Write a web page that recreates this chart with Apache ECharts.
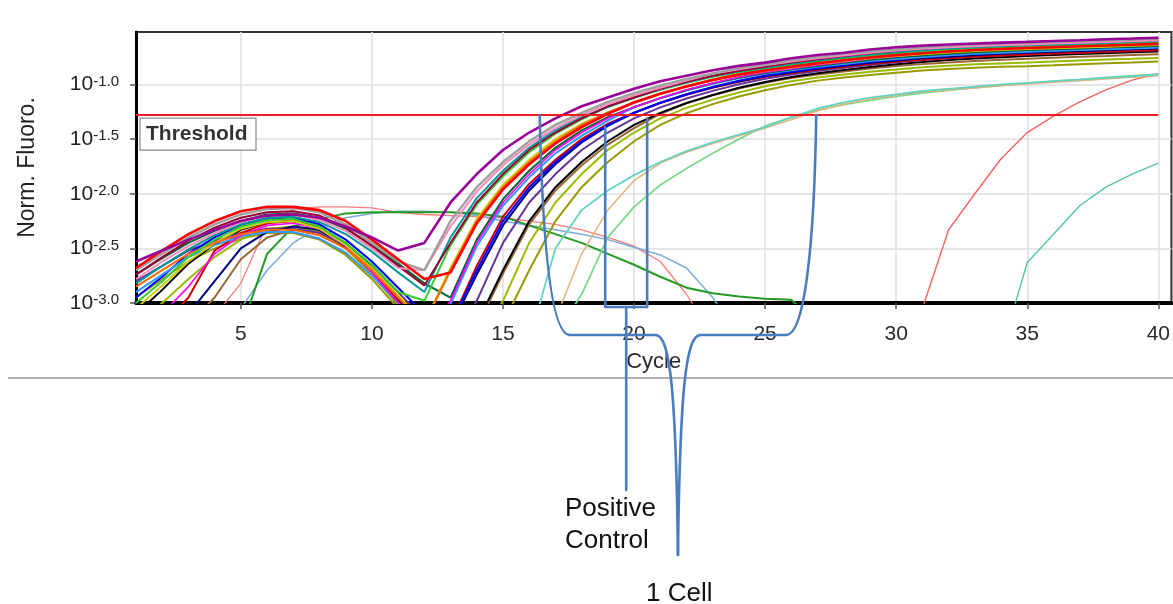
<!DOCTYPE html>
<html>
<head>
<meta charset="utf-8">
<script src="https://cdn.jsdelivr.net/npm/echarts@6/dist/echarts.min.js"></script>
<style>
html, body { margin: 0; padding: 0; background: #fff; }
#chart { width: 1173px; height: 604px; }
</style>
</head>
<body>
<div id="chart"></div>
<script>
// Cycle numbers and axis ticks
const cycles = [1,2,3,4,5,6,7,8,9,10,11,12,13,14,15,16,17,18,19,20,21,22,23,24,25,26,27,28,29,30,31,32,33,34,35,36,37,38,39,40];
const xTicks = [5, 10, 15, 20, 25, 30, 35, 40];
const yTicks = [-3.0, -2.5, -2.0, -1.5, -1.0];   // log10 of normalised fluorescence
const threshold = -1.28;

// Normalised fluorescence per cycle, as log10 values
const purple = [-2.62,-2.52,-2.42,-2.33,-2.25,-2.20,-2.19,-2.22,-2.30,-2.40,-2.52,-2.45,-2.08,-1.82,-1.60,-1.44,-1.31,-1.20,-1.12,-1.04,-0.97,-0.92,-0.87,-0.83,-0.80,-0.76,-0.73,-0.71,-0.68,-0.66,-0.645,-0.635,-0.625,-0.617,-0.61,-0.602,-0.595,-0.587,-0.58,-0.572];
const grey = [-2.70,-2.55,-2.40,-2.28,-2.19,-2.14,-2.13,-2.17,-2.28,-2.45,-2.62,-2.70,-2.25,-1.94,-1.71,-1.52,-1.37,-1.26,-1.16,-1.08,-1.01,-0.95,-0.90,-0.85,-0.82,-0.78,-0.75,-0.72,-0.70,-0.68,-0.66,-0.645,-0.635,-0.626,-0.619,-0.611,-0.604,-0.596,-0.589,-0.581];
const pink = [-2.78,-2.62,-2.48,-2.36,-2.26,-2.20,-2.19,-2.24,-2.34,-2.50,-2.68,-2.70,-2.30,-1.98,-1.74,-1.55,-1.40,-1.28,-1.18,-1.10,-1.03,-0.965,-0.90,-0.86,-0.825,-0.79,-0.76,-0.735,-0.71,-0.69,-0.674,-0.66,-0.65,-0.641,-0.634,-0.626,-0.619,-0.611,-0.604,-0.596];
const maroon = [-2.74,-2.58,-2.43,-2.31,-2.22,-2.17,-2.16,-2.20,-2.31,-2.48,-2.66,-2.84,-2.45,-2.08,-1.82,-1.60,-1.44,-1.31,-1.20,-1.12,-1.04,-0.976,-0.92,-0.874,-0.838,-0.80,-0.77,-0.739,-0.715,-0.692,-0.673,-0.655,-0.645,-0.635,-0.627,-0.62,-0.612,-0.605,-0.597,-0.59];
const teal = [-2.82,-2.66,-2.51,-2.38,-2.28,-2.22,-2.21,-2.26,-2.37,-2.53,-2.72,-2.90,-2.40,-2.04,-1.79,-1.58,-1.42,-1.30,-1.205,-1.12,-1.045,-0.98,-0.925,-0.88,-0.845,-0.81,-0.78,-0.75,-0.727,-0.705,-0.687,-0.67,-0.66,-0.65,-0.642,-0.635,-0.627,-0.62,-0.612,-0.605];
const green = [-3.00,-2.80,-2.58,-2.42,-2.30,-2.24,-2.23,-2.30,-2.45,-2.65,-2.90,-2.98,-2.47,-2.10,-1.84,-1.62,-1.45,-1.32,-1.206,-1.122,-1.048,-0.984,-0.93,-0.886,-0.853,-0.819,-0.79,-0.761,-0.739,-0.718,-0.701,-0.685,-0.675,-0.665,-0.657,-0.65,-0.642,-0.635,-0.627,-0.62];
const orange = [-2.85,-2.70,-2.55,-2.45,-2.37,-2.33,-2.33,-2.38,-2.50,-2.70,-2.95,-3.19,-2.70,-2.25,-1.94,-1.71,-1.52,-1.37,-1.258,-1.163,-1.083,-1.014,-0.954,-0.905,-0.865,-0.83,-0.798,-0.768,-0.742,-0.72,-0.701,-0.683,-0.67,-0.66,-0.651,-0.644,-0.636,-0.629,-0.621,-0.614];
const red = [-2.68,-2.52,-2.37,-2.25,-2.16,-2.12,-2.12,-2.15,-2.25,-2.42,-2.60,-2.78,-2.72,-2.27,-1.96,-1.73,-1.54,-1.39,-1.268,-1.165,-1.086,-1.018,-0.959,-0.91,-0.872,-0.838,-0.807,-0.778,-0.754,-0.732,-0.714,-0.698,-0.685,-0.675,-0.666,-0.659,-0.651,-0.644,-0.636,-0.629];
const yellow = [-3.05,-2.84,-2.62,-2.45,-2.32,-2.26,-2.25,-2.32,-2.47,-2.68,-2.93,-3.18,-2.68,-2.23,-1.92,-1.69,-1.50,-1.36,-1.255,-1.166,-1.088,-1.02,-0.962,-0.914,-0.876,-0.844,-0.813,-0.785,-0.761,-0.74,-0.723,-0.707,-0.695,-0.685,-0.676,-0.669,-0.661,-0.654,-0.646,-0.639];
const magenta = [-3.30,-3.10,-2.85,-2.55,-2.38,-2.29,-2.27,-2.32,-2.48,-2.72,-3.00,-3.30,-2.98,-2.45,-2.08,-1.82,-1.60,-1.44,-1.31,-1.206,-1.123,-1.049,-0.986,-0.932,-0.889,-0.855,-0.821,-0.793,-0.764,-0.743,-0.722,-0.706,-0.69,-0.68,-0.67,-0.662,-0.655,-0.647,-0.64,-0.632];
const darkGreen = [-2.74,-2.59,-2.45,-2.34,-2.25,-2.19,-2.18,-2.22,-2.32,-2.47,-2.64,-2.82,-2.95,-2.42,-2.05,-1.79,-1.58,-1.42,-1.30,-1.207,-1.125,-1.052,-0.99,-0.937,-0.895,-0.862,-0.83,-0.802,-0.775,-0.754,-0.735,-0.72,-0.705,-0.695,-0.685,-0.677,-0.67,-0.662,-0.655,-0.647];
const sky = [-2.90,-2.74,-2.58,-2.47,-2.39,-2.35,-2.35,-2.41,-2.54,-2.75,-3.00,-3.25,-3.01,-2.48,-2.11,-1.85,-1.63,-1.47,-1.33,-1.209,-1.127,-1.056,-0.994,-0.943,-0.901,-0.87,-0.839,-0.812,-0.786,-0.766,-0.748,-0.733,-0.72,-0.71,-0.70,-0.692,-0.685,-0.677,-0.67,-0.662];
const blue = [-2.95,-2.76,-2.55,-2.40,-2.29,-2.23,-2.22,-2.28,-2.42,-2.62,-2.86,-3.10,-3.19,-2.70,-2.25,-1.94,-1.71,-1.52,-1.37,-1.259,-1.167,-1.09,-1.022,-0.965,-0.918,-0.881,-0.849,-0.819,-0.792,-0.769,-0.748,-0.732,-0.717,-0.705,-0.695,-0.686,-0.679,-0.671,-0.664,-0.656];
const navy = [-3.50,-3.30,-3.10,-2.80,-2.50,-2.35,-2.30,-2.33,-2.45,-2.68,-2.95,-3.25,-3.22,-2.74,-2.29,-1.97,-1.73,-1.53,-1.38,-1.26,-1.168,-1.092,-1.026,-0.97,-0.924,-0.888,-0.857,-0.828,-0.802,-0.78,-0.761,-0.746,-0.732,-0.72,-0.71,-0.701,-0.694,-0.686,-0.679,-0.671];
const darkRed = [-3.40,-3.20,-2.95,-2.52,-2.36,-2.27,-2.25,-2.30,-2.46,-2.70,-2.98,-3.28,-3.19,-2.66,-2.21,-1.91,-1.69,-1.50,-1.36,-1.26,-1.17,-1.095,-1.03,-0.975,-0.93,-0.895,-0.865,-0.837,-0.812,-0.791,-0.773,-0.759,-0.746,-0.735,-0.725,-0.716,-0.709,-0.701,-0.694,-0.686];
const violet = [-2.80,-2.66,-2.52,-2.43,-2.36,-2.32,-2.32,-2.36,-2.47,-2.66,-2.90,-3.15,-3.40,-2.98,-2.45,-2.08,-1.82,-1.60,-1.44,-1.31,-1.21,-1.129,-1.059,-0.999,-0.948,-0.908,-0.878,-0.847,-0.822,-0.796,-0.778,-0.761,-0.747,-0.735,-0.725,-0.715,-0.707,-0.70,-0.692,-0.685];
const black = [-3.10,-2.88,-2.64,-2.46,-2.33,-2.26,-2.25,-2.33,-2.49,-2.71,-2.97,-3.22,-3.45,-3.19,-2.70,-2.25,-1.94,-1.71,-1.52,-1.37,-1.26,-1.17,-1.096,-1.031,-0.977,-0.932,-0.897,-0.868,-0.84,-0.815,-0.795,-0.777,-0.763,-0.751,-0.74,-0.73,-0.721,-0.714,-0.706,-0.699];
const brown = [-3.60,-3.40,-3.20,-2.95,-2.60,-2.40,-2.33,-2.35,-2.47,-2.70,-2.98,-3.28,-3.50,-3.22,-2.73,-2.28,-1.97,-1.74,-1.55,-1.40,-1.27,-1.173,-1.10,-1.038,-0.985,-0.942,-0.909,-0.881,-0.855,-0.832,-0.814,-0.798,-0.786,-0.775,-0.765,-0.755,-0.746,-0.739,-0.731,-0.724];
const lime = [-3.20,-3.00,-2.78,-2.58,-2.42,-2.32,-2.30,-2.35,-2.50,-2.74,-3.02,-3.32,-3.60,-3.40,-2.98,-2.45,-2.08,-1.82,-1.60,-1.44,-1.31,-1.214,-1.139,-1.073,-1.017,-0.971,-0.936,-0.91,-0.884,-0.864,-0.843,-0.829,-0.816,-0.808,-0.80,-0.79,-0.78,-0.772,-0.765,-0.757];
const olive = [-2.95,-2.78,-2.62,-2.50,-2.41,-2.36,-2.36,-2.42,-2.56,-2.78,-3.05,-3.30,-3.50,-3.70,-3.19,-2.70,-2.25,-1.94,-1.71,-1.52,-1.37,-1.263,-1.18,-1.111,-1.053,-1.004,-0.965,-0.937,-0.913,-0.892,-0.873,-0.859,-0.847,-0.839,-0.833,-0.825,-0.815,-0.806,-0.799,-0.791];

// Wells without amplification (signal fades away)
const salmonFlat = [null,null,-3.45,-3.12,-2.82,-2.28,-2.14,-2.12,-2.12,-2.13,-2.17,-2.19,-2.20,-2.21,-2.22,-2.25,-2.28,-2.33,-2.40,-2.48,-2.62,-2.92,-3.30,null,null,null,null,null,null,null,null,null,null,null,null,null,null,null,null,null];
const greenFlat = [null,null,null,null,-3.25,-2.55,-2.30,-2.23,-2.18,-2.17,-2.17,-2.17,-2.17,-2.18,-2.21,-2.29,-2.37,-2.45,-2.55,-2.65,-2.76,-2.86,-2.91,-2.94,-2.96,-2.97,-3.20,null,null,null,null,null,null,null,null,null,null,null,null,null];
const blueFlat = [null,null,null,-3.40,-3.05,-2.70,-2.45,-2.30,-2.22,-2.18,-2.16,-2.16,-2.17,-2.20,-2.25,-2.29,-2.33,-2.37,-2.42,-2.49,-2.56,-2.68,-2.95,-3.30,null,null,null,null,null,null,null,null,null,null,null,null,null,null,null,null];

// Late single-cell wells
const aqua = [null,null,null,null,null,null,null,null,null,null,null,null,null,null,null,-3.35,-2.50,-2.15,-1.97,-1.83,-1.71,-1.61,-1.53,-1.46,-1.39,-1.30,-1.22,-1.165,-1.12,-1.09,-1.06,-1.04,-1.02,-1.00,-0.985,-0.97,-0.955,-0.94,-0.925,-0.91];
const tan = [null,null,null,null,null,null,null,null,null,null,null,null,null,null,null,null,-3.15,-2.55,-2.15,-1.88,-1.72,-1.62,-1.54,-1.47,-1.40,-1.32,-1.24,-1.18,-1.135,-1.10,-1.07,-1.05,-1.03,-1.01,-0.995,-0.98,-0.965,-0.95,-0.935,-0.92];
const paleGreen = [null,null,null,null,null,null,null,null,null,null,null,null,null,null,null,null,-3.30,-2.92,-2.40,-2.12,-1.92,-1.77,-1.63,-1.50,-1.38,-1.30,-1.235,-1.185,-1.145,-1.11,-1.08,-1.055,-1.03,-1.01,-0.99,-0.97,-0.955,-0.935,-0.92,-0.905];
const lateRed = [null,null,null,null,null,null,null,null,null,null,null,null,null,null,null,null,null,null,null,null,null,null,null,null,null,null,null,null,null,null,-3.05,-2.33,-2.00,-1.68,-1.44,-1.29,-1.16,-1.05,-0.96,-0.90];
const lateTeal = [null,null,null,null,null,null,null,null,null,null,null,null,null,null,null,null,null,null,null,null,null,null,null,null,null,null,null,null,null,null,null,null,null,-3.45,-2.63,-2.37,-2.11,-1.94,-1.82,-1.72];

// Bracket annotations (cycle ranges at the threshold)
const oneCellSpan = [16.4, 26.95];
const controlSpan = [18.9, 20.5];
const controlTops = [-1.39, -1.31];

const FONT = "'Liberation Sans', Arial, sans-serif";

const curves = [
  { data: salmonFlat, color: '#ff7b7b', width: 1.3 },
  { data: blueFlat,   color: '#79acd8', width: 1.5 },
  { data: greenFlat,  color: '#239b23', width: 2 },
  { data: lateRed,    color: '#f56464', width: 1.4 },
  { data: lateTeal,   color: '#55c4a6', width: 1.4 },
  { data: olive,      color: '#999900', width: 2 },
  { data: lime,       color: '#99bb00', width: 2 },
  { data: brown,      color: '#996633', width: 2 },
  { data: black,      color: '#000000', width: 2 },
  { data: violet,     color: '#663399', width: 2 },
  { data: darkRed,    color: '#cc0000', width: 2 },
  { data: navy,       color: '#000080', width: 2 },
  { data: blue,       color: '#0000ff', width: 2 },
  { data: sky,        color: '#3399ff', width: 2 },
  { data: darkGreen,  color: '#006633', width: 2 },
  { data: magenta,    color: '#ff00ff', width: 1.6 },
  { data: yellow,     color: '#cccc00', width: 2 },
  { data: orange,     color: '#ff6600', width: 2 },
  { data: green,      color: '#33cc33', width: 2 },
  { data: teal,       color: '#009999', width: 2 },
  { data: maroon,     color: '#990033', width: 2 },
  { data: pink,       color: '#ff88bb', width: 2 },
  { data: grey,       color: '#a0a0a0', width: 2.4 },
  { data: red,        color: '#ff0000', width: 2.6 },
  { data: purple,     color: '#990099', width: 2.6 },
  { data: paleGreen,  color: '#7fd98c', width: 1.8 },
  { data: tan,        color: '#e2b37a', width: 1.5 },
  { data: aqua,       color: '#66d2c4', width: 1.8 }
];

const toPoints = values => cycles.map((c, i) => [c, values[i]]);

const series = curves.map(cv => ({
  type: 'line',
  data: toPoints(cv.data),
  showSymbol: false,
  symbol: 'none',
  silent: true,
  clip: true,
  lineStyle: { color: cv.color, width: cv.width },
  animation: false
}));

series.push({
  type: 'line',
  data: [[cycles[0], threshold], [cycles[cycles.length - 1], threshold]],
  showSymbol: false,
  symbol: 'none',
  silent: true,
  lineStyle: { color: '#ee1c24', width: 2 },
  z: 5,
  animation: false
});

const option = {
  animation: false,
  backgroundColor: '#ffffff',
  textStyle: { fontFamily: FONT },
  grid: {
    left: 136, width: 1037, top: 32, height: 271,
    show: true, borderColor: '#333', borderWidth: 2, backgroundColor: '#fff'
  },
  xAxis: {
    type: 'value', min: 1, max: 40.5,
    name: 'Cycle', nameLocation: 'middle', nameGap: 48,
    nameTextStyle: { fontSize: 22, color: '#2a2a2a', fontFamily: FONT },
    axisLine: { show: true, lineStyle: { color: '#000', width: 4 } },
    axisTick: { show: true, customValues: xTicks, length: 6, lineStyle: { color: '#555', width: 1.5 } },
    axisLabel: { customValues: xTicks, fontSize: 21, color: '#2a2a2a', margin: 21, fontFamily: FONT },
    splitLine: { show: true, lineStyle: { color: '#dedede', width: 1.5 } }
  },
  yAxis: {
    type: 'value', min: -3, max: -0.52, interval: 0.5,
    name: 'Norm. Fluoro.', nameLocation: 'middle', nameGap: 97, nameRotate: 90,
    nameTextStyle: { fontSize: 23, color: '#222', fontFamily: FONT },
    axisLine: { show: true, lineStyle: { color: '#000', width: 3 } },
    axisTick: { show: true, customValues: yTicks, length: 6, lineStyle: { color: '#555', width: 1.5 } },
    axisLabel: {
      customValues: yTicks, margin: 17,
      formatter: v => '{b|10}{s|' + v.toFixed(1) + '}',
      rich: {
        b: { fontSize: 21, color: '#222', fontFamily: FONT, verticalAlign: 'middle', lineHeight: 21 },
        s: { fontSize: 15, color: '#222', fontFamily: FONT, verticalAlign: 'top', lineHeight: 15, padding: [0, 0, 23, 0] }
      }
    },
    splitLine: { show: true, lineStyle: { color: '#dedede', width: 1.5 } }
  },
  series: series
};

const chart = echarts.init(document.getElementById('chart'), null, { renderer: 'canvas' });
chart.setOption(option);

// Annotation layer: threshold tag, divider, brackets and their captions
const px = (c, v) => chart.convertToPixel({ gridIndex: 0 }, [c, v]);
const [x0, yThr] = px(cycles[0], threshold);
const [cL] = px(oneCellSpan[0], threshold);
const [cR] = px(oneCellSpan[1], threshold);
const tip = (cL + cR) / 2;
const braceY = 335, tipY = 555;

const [pL, pLy] = px(controlSpan[0], controlTops[0]);
const [pR, pRy] = px(controlSpan[1], controlTops[1]);
const pTip = (pL + pR) / 2, pBase = 307, pEnd = 490;

const braceStyle = { stroke: '#4a7dbd', lineWidth: 2.6, fill: null, lineJoin: 'round', lineCap: 'round' };
const curve = (x1, y1, cpx1, cpy1, cpx2, cpy2, x2, y2) => ({
  type: 'bezierCurve', z: 20, silent: true,
  shape: { x1, y1, cpx1, cpy1, cpx2, cpy2, x2, y2 }, style: braceStyle
});
const seg = (points) => ({ type: 'polyline', z: 20, silent: true, shape: { points }, style: braceStyle });

chart.setOption({
  graphic: [
    { type: 'rect', z: 10, shape: { x: x0 + 4, y: yThr + 3, width: 116, height: 32 },
      style: { fill: '#fff', stroke: '#8a8a8a', lineWidth: 1.2 } },
    { type: 'text', z: 11, x: x0 + 10, y: yThr + 19,
      style: { text: 'Threshold', fontSize: 21, fontWeight: 'bold', fontFamily: FONT, fill: '#333', align: 'left', verticalAlign: 'middle' } },
    { type: 'line', z: 10, shape: { x1: 8, y1: 378, x2: 1173, y2: 378 },
      style: { stroke: '#b4b4b4', lineWidth: 2 } },

    // single-cell bracket
    curve(cL, yThr, cL + 3, 250, cL + 12, braceY, cL + 30, braceY),
    seg([[cL + 30, braceY], [tip - 22, braceY]]),
    curve(tip - 22, braceY, tip - 8, braceY + 1, tip - 2, braceY + 55, tip, tipY),
    curve(tip, tipY, tip + 2, braceY + 55, tip + 8, braceY + 1, tip + 22, braceY),
    seg([[tip + 22, braceY], [cR - 30, braceY]]),
    curve(cR - 30, braceY, cR - 12, braceY, cR - 2, 250, cR, yThr),

    // positive-control bracket
    seg([[pL, pLy], [pL, pBase], [pTip, pBase], [pTip, pEnd]]),
    seg([[pR, pRy], [pR, pBase], [pTip, pBase]]),

    { type: 'text', z: 20, x: 565, y: 509,
      style: { text: 'Positive', fontSize: 26, fontFamily: FONT, fill: '#111', align: 'left', verticalAlign: 'middle' } },
    { type: 'text', z: 20, x: 565, y: 541,
      style: { text: 'Control', fontSize: 26, fontFamily: FONT, fill: '#111', align: 'left', verticalAlign: 'middle' } },
    { type: 'text', z: 20, x: 646, y: 594,
      style: { text: '1 Cell', fontSize: 26, fontFamily: FONT, fill: '#111', align: 'left', verticalAlign: 'middle' } }
  ]
});
</script>
</body>
</html>
